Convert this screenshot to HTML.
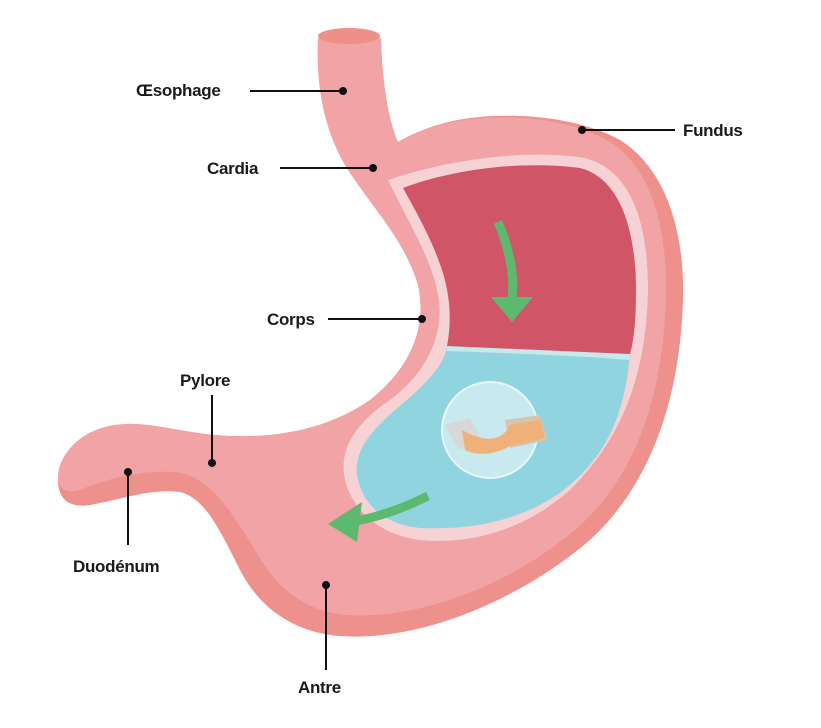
<!DOCTYPE html>
<html><head><meta charset="utf-8"><style>
html,body{margin:0;padding:0;background:#fff;}
svg{display:block}
text{font-family:"Liberation Sans",sans-serif;font-size:17px;font-weight:bold;fill:#1a1a1a;letter-spacing:-0.3px}
</style></head><body>
<svg width="821" height="728" viewBox="0 0 821 728">
<path d="M318,38 C316,90 325,130 345,165 C370,205 405,240 418,285 C428,330 408,370 370,400 C330,428 280,438 230,436 C180,434 150,420 115,425 C80,430 58,455 58,480 C58,500 70,508 90,505 C120,500 150,488 180,492 C205,498 220,530 240,570 C258,605 290,632 340,636 C420,642 520,600 590,540 C650,485 680,400 683,300 C685,220 660,165 620,140 C580,118 520,112 470,118 C440,122 415,132 398,142 C388,120 382,80 381,38 Z" fill="#ee908c"/>
<path d="M318,38 C316,90 325,130 345,165 C370,205 405,240 418,285 C428,330 408,370 370,400 C330,428 280,438 230,436 C180,434 150,420 115,425 C80,430 58,455 58,478 C58,490 68,494 80,490 C110,478 140,470 175,472 C210,476 230,510 255,550 C275,585 300,610 345,615 C420,620 510,585 575,530 C635,478 662,400 666,300 C668,220 648,168 612,143 C575,120 520,114 470,119 C440,123 415,132 398,142 C388,120 382,80 381,38 Z" fill="#f1a3a6"/>
<ellipse cx="349" cy="36" rx="31" ry="8" fill="#ee8f88"/>
<path d="M388,180 C440,162 520,148 585,158 C630,170 648,220 648,290 C646,380 620,440 570,490 C525,530 470,545 420,540 C380,535 350,510 344,475 C340,445 360,420 390,400 C430,370 445,330 438,295 C432,260 410,225 388,180 Z" fill="#f7d2d4"/>
<path d="M447,346 L630,354 C625,410 610,450 570,485 C525,522 470,530 420,528 C385,525 362,505 357,475 C354,450 372,430 395,410 C425,385 445,365 447,346 Z" fill="#90d4e0"/>
<path d="M447,346 L630,354 L629,360 C570,355 500,353 447,351 Z" fill="#c6e9ee"/>
<path d="M403,188 C450,170 520,160 580,168 C620,178 636,230 636,290 C636,320 634,340 630,354 L447,346 C452,320 450,295 442,270 C432,240 418,215 403,188 Z" fill="#d05667"/>
<circle cx="490" cy="430" r="48" fill="#d6eff3" opacity="0.8"/>
<circle cx="490" cy="430" r="48" fill="none" stroke="#e8f6f8" stroke-width="2"/>
<path d="M445,425 L470,418 L482,440 L458,450 Z" fill="#d8d8d8"/>
<path d="M505,420 L540,415 L548,440 L510,448 Z" fill="#d9c3ad"/>
<path d="M462,430 C480,440 500,445 510,425 L540,420 L545,438 L510,446 C500,452 480,458 465,450 Z" fill="#f0b07a"/>
<path d="M498,222 C510,250 515,275 512,300" fill="none" stroke="#5db96f" stroke-width="9"/>
<path d="M491,297 L533,297 L512,322 Z" fill="#5db96f"/>
<path d="M428,496 C400,510 375,518 350,522" fill="none" stroke="#5db96f" stroke-width="9"/>
<path d="M362,502 L328,524 L357,542 Z" fill="#5db96f"/>
<g stroke="#111" stroke-width="2" fill="none">
<line x1="250" y1="91" x2="343" y2="91"/>
<line x1="280" y1="168" x2="373" y2="168"/>
<line x1="580" y1="130" x2="675" y2="130"/>
<line x1="328" y1="319" x2="422" y2="319"/>
<line x1="212" y1="395" x2="212" y2="463"/>
<line x1="128" y1="472" x2="128" y2="545"/>
<line x1="326" y1="585" x2="326" y2="670"/>
</g>
<g fill="#111">
<circle cx="343" cy="91" r="4"/><circle cx="373" cy="168" r="4"/><circle cx="582" cy="130" r="4"/>
<circle cx="422" cy="319" r="4"/><circle cx="212" cy="463" r="4"/><circle cx="128" cy="472" r="4"/><circle cx="326" cy="585" r="4"/>
</g>
<text x="136" y="96">Œsophage</text>
<text x="207" y="174">Cardia</text>
<text x="683" y="136">Fundus</text>
<text x="267" y="325">Corps</text>
<text x="180" y="386">Pylore</text>
<text x="73" y="572">Duodénum</text>
<text x="298" y="693">Antre</text>
</svg>
</body></html>
